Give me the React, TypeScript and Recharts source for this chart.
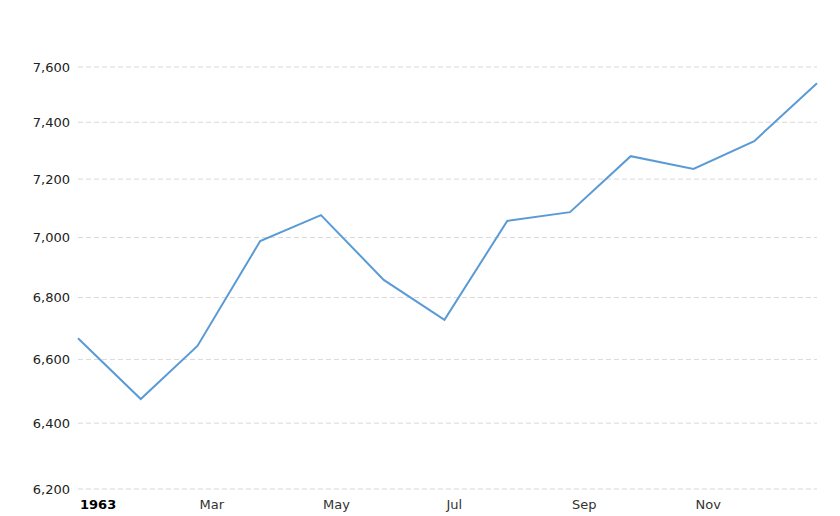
import { LineChart, Line, XAxis, YAxis, CartesianGrid } from "recharts";

const months = [
  "1963-01-01", "1963-02-01", "1963-03-01", "1963-04-01", "1963-05-01",
  "1963-06-01", "1963-07-01", "1963-08-01", "1963-09-01", "1963-10-01",
  "1963-11-01", "1963-12-01", "1964-01-01",
];
const values = [6668, 6475, 6643, 6988, 7076, 6858, 6727, 7056, 7086, 7280, 7235, 7333, 7541];

const yTicks = [6200, 6400, 6600, 6800, 7000, 7200, 7400, 7600];
const xTickDates = ["1963-01-01", "1963-03-01", "1963-05-01", "1963-07-01", "1963-09-01", "1963-11-01"];
const xTickLabels = ["1963", "Mar", "May", "Jul", "Sep", "Nov"];

const toTime = (s: string) => new Date(s + "T00:00:00Z").getTime();

const data = months.map((m, i) => ({ t: toTime(m), v: values[i] }));
const xTicks = xTickDates.map(toTime);

const FONT = "Verdana, 'DejaVu Sans', sans-serif";

const XTick = (props: any) => {
  const { x, y, payload } = props;
  const i = xTicks.indexOf(payload.value);
  const label = xTickLabels[i] ?? "";
  return (
    <text
      x={x + 2}
      y={y}
      dy="0.71em"
      textAnchor="start"
      fontFamily={FONT}
      fontSize={13}
      fontWeight={i === 0 ? "bold" : "normal"}
      fill={i === 0 ? "#000" : "#333"}
    >
      {label}
    </text>
  );
};

export default function App() {
  return (
    <div>
      <style>{"body{margin:0}"}</style>
      <LineChart
        width={840}
        height={516}
        data={data}
        margin={{ top: 67, right: 23, bottom: 0, left: 0 }}
      >
        <CartesianGrid
          vertical={false}
          stroke="#d9d9d9"
          strokeDasharray="5 3"
        />
        <XAxis
          dataKey="t"
          type="number"
          scale="time"
          domain={[toTime("1963-01-01"), toTime("1964-01-01")]}
          ticks={xTicks}
          tick={<XTick />}
          axisLine={false}
          tickLine={false}
          tickSize={0}
          tickMargin={11}
          height={27}
          interval={0}
        />
        <YAxis
          scale="log"
          type="number"
          domain={[6200, 7600]}
          ticks={yTicks}
          allowDataOverflow
          axisLine={false}
          tickLine={false}
          tickSize={0}
          tickMargin={8}
          width={78}
          interval={0}
          tick={{ fontFamily: FONT, fontSize: 13, fill: "#222" }}
          tickFormatter={(v: number) => v.toLocaleString("en-US")}
        />
        <Line
          type="linear"
          dataKey="v"
          stroke="#5a9bd5"
          strokeWidth={2}
          dot={false}
          isAnimationActive={false}
        />
      </LineChart>
    </div>
  );
}
